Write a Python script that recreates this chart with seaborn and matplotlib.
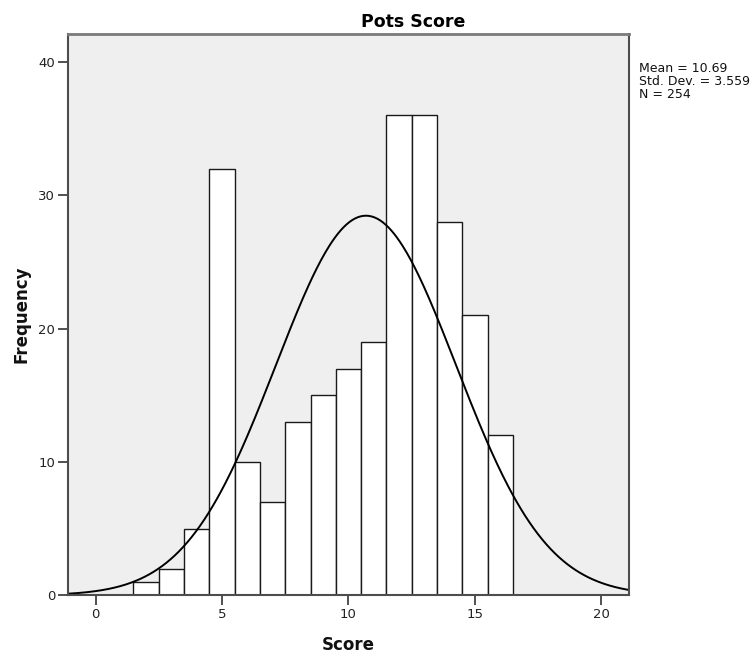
import numpy as np
import pandas as pd
import matplotlib
matplotlib.use("Agg")
import matplotlib.pyplot as plt
import seaborn as sns

# Score values (integer bins) and their frequencies
scores = [2, 3, 4, 5, 6, 7, 8, 9, 10, 11, 12, 13, 14, 15, 16]
counts = [1, 2, 5, 32, 10, 7, 13, 15, 17, 19, 36, 36, 28, 21, 12]

# Summary statistics shown in the side note
mean_val = 10.69
sd_val = 3.559
n_val = 254

x_ticks = [0, 5, 10, 15, 20]
y_ticks = [0, 10, 20, 30, 40]

sns.set_style("white")
plt.rcParams["font.family"] = ["DejaVu Sans"]
plt.rcParams["text.color"] = "#111111"
plt.rcParams["axes.labelcolor"] = "#111111"

# One row per respondent
df = pd.DataFrame({"Score": np.repeat(scores, counts).astype(float)})

fig = plt.figure(figsize=(7.55, 6.57), dpi=100)
W, H = 755, 657
left, right, top, bottom = 67.7, 629.3, 34, 595.3
ax = fig.add_axes([left / W, 1 - bottom / H, (right - left) / W, (bottom - top) / H])
ax.set_facecolor("#efefef")

bin_edges = list(np.arange(min(scores) - 0.5, max(scores) + 1.5, 1.0))
sns.histplot(data=df, x="Score", bins=bin_edges, stat="count",
             color="white", edgecolor="#1a1a1a", linewidth=1.0, alpha=1.0, ax=ax)

# Fitted normal curve scaled to the histogram counts (bin width 1)
xs = np.linspace(-1.1, 21.1, 400)
ys = n_val * 1.0 / (sd_val * np.sqrt(2 * np.pi)) * np.exp(-0.5 * ((xs - mean_val) / sd_val) ** 2)
sns.lineplot(x=xs, y=ys, color="black", linewidth=1.4, ax=ax)

ax.set_xlim(-1.1, 21.1)
ax.set_ylim(0, 42.1)
ax.set_xticks(x_ticks)
ax.set_yticks(y_ticks)
ax.tick_params(axis="both", direction="out", length=7, width=1.2, color="#333333",
               labelsize=9.5, labelcolor="#222222", bottom=True, left=True, pad=2)

for side in ["left", "right", "top", "bottom"]:
    ax.spines[side].set_visible(True)
    ax.spines[side].set_color("#4d4d4d")
    ax.spines[side].set_linewidth(1.5)
ax.spines["top"].set_color("#7a7a7a")
ax.spines["top"].set_linewidth(2.0)

ax.set_xlabel("Score", fontsize=12, fontweight="bold", labelpad=11)
ax.set_ylabel("Frequency", fontsize=12, fontweight="bold", labelpad=5.5)

# Title centred over the plot and the statistics note together
fig.text(413 / W, 1 - 27 / H, "Pots Score", fontsize=12.5, fontweight="bold",
         ha="center", va="baseline", color="#000000")

fig.text(639 / W, 1 - 62 / H,
         f"Mean = {mean_val:.2f}\nStd. Dev. = {sd_val:.3f}\nN = {n_val}",
         fontsize=9, va="top", ha="left", linespacing=1.0, color="#111111")

fig.savefig("out.png", dpi=100)
